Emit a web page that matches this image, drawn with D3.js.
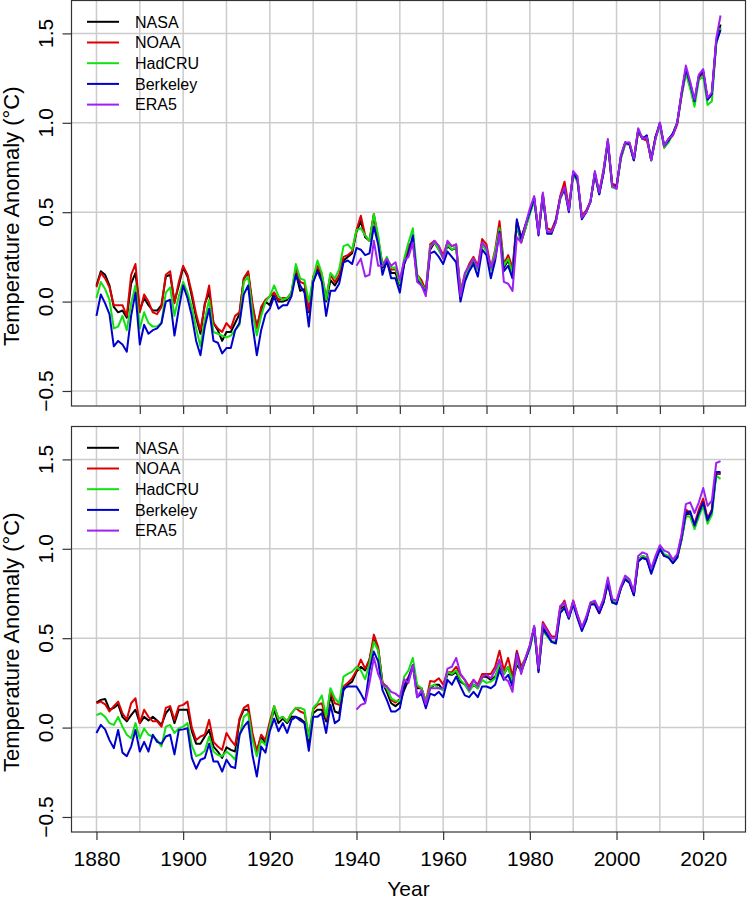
<!DOCTYPE html>
<html>
<head>
<meta charset="utf-8">
<script src="https://cdn.jsdelivr.net/npm/d3@7"></script>
<style>
  body { margin: 0; background: #fff; }
  svg { display: block; font-family: "Liberation Sans", Arial, sans-serif; }
</style>
</head>
<body>
<svg id="chart" width="748" height="900"></svg>
<script>
/* global d3 */

// ---- data ----
var years = d3.range(1880, 2025);
var era5Years = d3.range(1940, 2025);

var xTicksTop = [1890, 1900, 1910, 1920, 1930, 1940, 1950, 1960, 1970, 1980, 1990, 2000, 2010, 2020];
var xTicksBottom = [1880, 1900, 1920, 1940, 1960, 1980, 2000, 2020];
var xGrid = [1880, 1890, 1900, 1910, 1920, 1930, 1940, 1950, 1960, 1970, 1980, 1990, 2000, 2010, 2020];
var yTicks = [-0.5, 0, 0.5, 1, 1.5];
var yTickLabels = ['\u22120.5', '0.0', '0.5', '1.0', '1.5'];

var seriesNames = ['NASA', 'NOAA', 'HadCRU', 'Berkeley', 'ERA5'];
var seriesColors = ['#000000', '#dd0000', '#11e011', '#0000cc', '#a020f0'];

// top panel
var nasaTop = [0.09,0.17,0.15,0.09,-0.03,-0.06,-0.05,-0.09,0.10,0.16,
  -0.05,0.02,-0.02,-0.05,-0.05,-0.02,0.14,0.15,0.00,0.09,
  0.19,0.14,0.03,-0.09,-0.18,-0.01,0.05,-0.12,-0.16,-0.22,
  -0.17,-0.17,-0.12,-0.07,0.13,0.16,-0.03,-0.14,-0.05,0.00,
  -0.02,0.05,0.00,0.00,0.01,0.05,0.16,0.06,0.07,-0.06,
  0.11,0.18,0.13,0.00,0.12,0.09,0.13,0.23,0.25,0.27,
  0.39,0.45,0.36,0.34,0.48,0.35,0.19,0.22,0.16,0.16,
  0.09,0.21,0.29,0.34,0.14,0.11,0.06,0.29,0.33,0.29,
  0.25,0.31,0.29,0.30,0.05,0.13,0.19,0.23,0.18,0.33,
  0.29,0.18,0.25,0.40,0.19,0.23,0.16,0.43,0.33,0.41,
  0.50,0.58,0.38,0.59,0.39,0.39,0.45,0.58,0.64,0.51,
  0.72,0.68,0.47,0.50,0.56,0.72,0.60,0.72,0.89,0.64,
  0.64,0.81,0.89,0.88,0.79,0.96,0.91,0.92,0.79,0.92,
  0.99,0.87,0.91,0.94,1.00,1.16,1.30,1.21,1.12,1.26,
  1.28,1.13,1.16,1.45,1.55];
var noaaTop = [0.08,0.16,0.13,0.08,-0.02,-0.02,-0.02,-0.08,0.15,0.21,
  -0.06,0.04,0.00,-0.06,-0.07,-0.03,0.15,0.17,-0.01,0.11,
  0.20,0.15,0.05,-0.07,-0.16,-0.02,0.09,-0.12,-0.15,-0.17,
  -0.12,-0.15,-0.08,-0.06,0.13,0.17,-0.01,-0.15,-0.03,0.01,
  0.03,0.05,0.01,0.02,0.02,0.05,0.19,0.11,0.10,-0.05,
  0.14,0.20,0.15,0.02,0.15,0.11,0.15,0.25,0.26,0.28,
  0.40,0.48,0.37,0.34,0.49,0.34,0.21,0.24,0.18,0.18,
  0.11,0.22,0.31,0.34,0.15,0.12,0.06,0.32,0.34,0.31,
  0.26,0.33,0.31,0.32,0.06,0.15,0.21,0.25,0.20,0.35,
  0.32,0.19,0.29,0.45,0.21,0.26,0.19,0.45,0.36,0.43,
  0.50,0.57,0.40,0.60,0.41,0.40,0.46,0.59,0.67,0.53,
  0.71,0.68,0.48,0.51,0.56,0.71,0.61,0.74,0.89,0.66,
  0.65,0.80,0.88,0.88,0.80,0.95,0.91,0.90,0.80,0.92,
  0.99,0.86,0.90,0.93,0.99,1.15,1.28,1.20,1.12,1.25,
  1.28,1.13,1.16,1.45,1.53];
var hadcruTop = [0.02,0.11,0.07,0.01,-0.15,-0.14,-0.08,-0.16,-0.01,0.09,
  -0.15,-0.06,-0.12,-0.14,-0.14,-0.12,0.05,0.08,-0.08,0.03,
  0.11,0.05,-0.03,-0.15,-0.25,-0.10,0.01,-0.17,-0.18,-0.19,
  -0.20,-0.19,-0.16,-0.13,0.11,0.14,-0.06,-0.19,-0.08,0.00,
  0.03,0.09,0.03,0.01,0.02,0.05,0.21,0.13,0.12,0.00,
  0.13,0.23,0.16,0.01,0.16,0.13,0.18,0.31,0.32,0.29,
  0.40,0.41,0.37,0.34,0.49,0.37,0.20,0.25,0.19,0.19,
  0.10,0.24,0.33,0.41,0.15,0.10,0.055,0.31,0.33,0.29,
  0.24,0.32,0.29,0.31,0.05,0.14,0.19,0.24,0.18,0.32,
  0.28,0.18,0.28,0.41,0.20,0.24,0.16,0.43,0.34,0.41,
  0.49,0.56,0.39,0.59,0.39,0.38,0.45,0.57,0.63,0.51,
  0.71,0.67,0.47,0.50,0.56,0.71,0.60,0.73,0.90,0.64,
  0.63,0.80,0.88,0.89,0.79,0.95,0.92,0.92,0.79,0.91,
  0.99,0.86,0.89,0.94,1.00,1.15,1.28,1.19,1.09,1.24,
  1.26,1.10,1.12,1.44,1.53];
var berkeleyTop = [-0.08,0.04,-0.01,-0.07,-0.25,-0.22,-0.24,-0.28,-0.08,0.05,
  -0.24,-0.13,-0.18,-0.16,-0.15,-0.12,0.00,0.01,-0.19,-0.04,
  0.09,0.02,-0.08,-0.22,-0.30,-0.14,-0.04,-0.22,-0.23,-0.29,
  -0.26,-0.26,-0.16,-0.12,0.04,0.09,-0.13,-0.30,-0.16,-0.07,
  -0.04,0.03,-0.04,-0.02,-0.02,0.03,0.15,0.09,0.05,-0.14,
  0.11,0.17,0.11,-0.08,0.06,0.06,0.10,0.22,0.23,0.21,
  0.30,0.29,0.26,0.27,0.42,0.32,0.15,0.23,0.13,0.13,
  0.05,0.21,0.27,0.37,0.12,0.09,0.045,0.27,0.28,0.25,
  0.21,0.28,0.25,0.22,0.00,0.11,0.17,0.21,0.14,0.29,
  0.26,0.13,0.23,0.39,0.17,0.20,0.13,0.46,0.35,0.43,
  0.50,0.58,0.37,0.60,0.38,0.38,0.45,0.58,0.63,0.50,
  0.72,0.68,0.46,0.50,0.56,0.72,0.60,0.72,0.90,0.65,
  0.64,0.81,0.89,0.88,0.79,0.96,0.91,0.93,0.79,0.92,
  1.00,0.87,0.90,0.94,1.00,1.16,1.30,1.22,1.12,1.26,
  1.29,1.13,1.16,1.45,1.52];
var era5Top = [0.20,0.24,0.14,0.15,0.34,0.20,0.20,0.24,0.20,0.22,
  0.12,0.23,0.25,0.33,0.11,0.09,0.03,0.30,0.34,0.31,
  0.24,0.34,0.31,0.32,0.03,0.16,0.20,0.24,0.19,0.33,
  0.30,0.19,0.25,0.38,0.11,0.10,0.06,0.36,0.33,0.43,
  0.52,0.59,0.38,0.61,0.39,0.39,0.44,0.58,0.64,0.51,
  0.73,0.70,0.47,0.50,0.56,0.73,0.61,0.73,0.91,0.65,
  0.63,0.82,0.89,0.89,0.80,0.97,0.91,0.92,0.79,0.91,
  1.00,0.87,0.91,0.93,1.00,1.17,1.32,1.23,1.13,1.27,
  1.30,1.14,1.17,1.47,1.60];

// bottom panel
var nasaBottom = [0.14,0.155,0.16,0.10,0.11,0.13,0.06,0.035,0.07,0.10,
  0.025,0.06,0.04,0.06,0.04,0.015,0.08,0.11,0.025,0.10,
  0.10,0.10,-0.02,-0.09,-0.09,-0.05,-0.013,-0.106,-0.134,-0.17,
  -0.11,-0.125,-0.134,0.043,0.10,0.10,-0.05,-0.134,-0.05,-0.09,
  0.015,0.10,0.025,0.05,0.025,0.06,0.06,0.05,0.03,-0.09,
  0.08,0.10,0.10,0.034,0.18,0.09,0.08,0.21,0.24,0.257,
  0.313,0.34,0.32,0.38,0.49,0.44,0.25,0.20,0.136,0.12,
  0.14,0.21,0.267,0.34,0.22,0.22,0.145,0.22,0.24,0.24,
  0.21,0.30,0.295,0.31,0.257,0.24,0.21,0.24,0.22,0.285,
  0.285,0.267,0.285,0.34,0.30,0.34,0.257,0.35,0.32,0.38,
  0.45,0.56,0.32,0.56,0.52,0.48,0.48,0.66,0.68,0.61,
  0.70,0.62,0.55,0.60,0.69,0.69,0.64,0.70,0.81,0.70,
  0.70,0.78,0.83,0.81,0.74,0.93,0.95,0.94,0.87,0.94,
  1.00,0.96,0.96,0.92,0.95,1.05,1.19,1.20,1.13,1.20,
  1.26,1.16,1.21,1.42,1.42];
var noaaBottom = [0.136,0.145,0.13,0.09,0.12,0.145,0.08,0.045,0.136,0.164,
  0.025,0.10,0.06,0.035,0.035,0.005,0.11,0.12,0.043,0.12,
  0.127,0.145,0.00,-0.07,-0.05,-0.04,0.043,-0.08,-0.106,-0.125,
  -0.03,-0.07,-0.10,0.05,0.11,0.127,-0.03,-0.134,-0.04,-0.07,
  0.034,0.12,0.05,0.06,0.034,0.08,0.11,0.09,0.08,-0.05,
  0.10,0.127,0.136,0.05,0.21,0.136,0.127,0.23,0.25,0.276,
  0.32,0.38,0.33,0.38,0.52,0.45,0.25,0.23,0.155,0.14,
  0.16,0.24,0.285,0.34,0.23,0.22,0.145,0.26,0.257,0.276,
  0.24,0.31,0.31,0.34,0.295,0.267,0.23,0.267,0.24,0.30,
  0.30,0.30,0.34,0.43,0.32,0.39,0.285,0.43,0.34,0.39,
  0.46,0.56,0.34,0.59,0.55,0.51,0.51,0.67,0.71,0.62,
  0.71,0.63,0.56,0.61,0.69,0.70,0.64,0.71,0.82,0.71,
  0.70,0.78,0.84,0.82,0.75,0.94,0.96,0.95,0.88,0.94,
  1.00,0.96,0.96,0.93,0.96,1.07,1.22,1.20,1.14,1.22,
  1.28,1.17,1.22,1.43,1.42];
var hadcruBottom = [0.07,0.08,0.06,0.025,0.015,0.06,0.005,-0.04,-0.06,0.025,
  -0.06,-0.005,-0.04,-0.05,-0.07,-0.105,0.005,0.015,-0.03,-0.005,
  0.005,0.025,-0.10,-0.16,-0.15,-0.13,-0.05,-0.134,-0.153,-0.16,
  -0.134,-0.153,-0.18,-0.05,0.06,0.08,-0.07,-0.16,-0.07,-0.098,
  0.005,0.12,0.05,0.06,0.034,0.08,0.11,0.11,0.10,-0.06,
  0.11,0.136,0.18,0.06,0.22,0.164,0.136,0.285,0.30,0.313,
  0.34,0.32,0.27,0.36,0.48,0.43,0.24,0.22,0.164,0.15,
  0.15,0.285,0.32,0.39,0.24,0.22,0.145,0.23,0.24,0.22,
  0.21,0.31,0.30,0.32,0.267,0.24,0.20,0.24,0.22,0.267,
  0.25,0.257,0.276,0.36,0.30,0.34,0.257,0.37,0.32,0.39,
  0.44,0.55,0.32,0.54,0.51,0.48,0.48,0.65,0.67,0.61,
  0.70,0.62,0.55,0.61,0.70,0.69,0.65,0.72,0.82,0.71,
  0.70,0.78,0.84,0.82,0.75,0.94,0.96,0.95,0.87,0.94,
  1.01,0.97,0.96,0.93,0.95,1.05,1.18,1.18,1.11,1.18,
  1.24,1.14,1.19,1.41,1.39];
var berkeleyBottom = [-0.03,0.015,-0.01,-0.07,-0.115,-0.013,-0.14,-0.16,-0.106,-0.013,
  -0.134,-0.08,-0.134,-0.04,-0.08,-0.09,-0.05,-0.04,-0.15,-0.013,
  -0.01,-0.004,-0.17,-0.23,-0.18,-0.17,-0.09,-0.19,-0.19,-0.246,
  -0.18,-0.218,-0.227,-0.04,0.005,0.034,-0.153,-0.274,-0.106,-0.14,
  -0.02,0.05,-0.02,0.025,-0.03,0.043,0.06,0.04,0.025,-0.13,
  0.06,0.06,0.08,-0.03,0.127,0.024,0.043,0.22,0.23,0.23,
  0.23,0.19,0.145,0.32,0.425,0.37,0.21,0.155,0.09,0.09,
  0.108,0.23,0.276,0.35,0.17,0.19,0.108,0.19,0.18,0.20,
  0.17,0.267,0.24,0.285,0.23,0.18,0.17,0.20,0.17,0.23,
  0.23,0.22,0.24,0.32,0.267,0.295,0.23,0.415,0.31,0.38,
  0.45,0.56,0.31,0.55,0.52,0.48,0.47,0.64,0.67,0.61,
  0.69,0.61,0.54,0.60,0.69,0.69,0.64,0.70,0.81,0.70,
  0.69,0.78,0.83,0.81,0.74,0.93,0.95,0.94,0.86,0.93,
  1.00,0.96,0.95,0.92,0.95,1.06,1.20,1.21,1.13,1.20,
  1.26,1.16,1.21,1.43,1.43];
var era5Bottom = [0.10,0.127,0.136,0.25,0.39,0.30,0.24,0.23,0.20,0.19,
  0.17,0.27,0.25,0.35,0.17,0.21,0.13,0.22,0.22,0.22,
  0.22,0.33,0.34,0.39,0.30,0.267,0.21,0.267,0.23,0.285,
  0.295,0.276,0.32,0.38,0.276,0.26,0.20,0.41,0.30,0.39,
  0.46,0.57,0.33,0.58,0.54,0.50,0.50,0.68,0.70,0.62,
  0.71,0.63,0.56,0.62,0.70,0.71,0.66,0.72,0.84,0.72,
  0.71,0.79,0.85,0.83,0.76,0.96,0.98,0.97,0.89,0.96,
  1.02,0.99,0.98,0.94,0.97,1.08,1.25,1.26,1.20,1.26,
  1.34,1.24,1.27,1.48,1.49];

// ---- layout ----
var svg = d3.select('svg#chart');
var plotLeft = 71.5, plotRight = 745.5;
var panels = [
  { top: 0.5, bottom: 406, series: [nasaTop, noaaTop, hadcruTop, berkeleyTop, era5Top], ticks: xTicksTop, labels: false },
  { top: 426.5, bottom: 832, series: [nasaBottom, noaaBottom, hadcruBottom, berkeleyBottom, era5Bottom], ticks: xTicksBottom, labels: true }
];

var x = d3.scaleLinear().domain([1874.24, 2029.76]).range([plotLeft, plotRight]);

panels.forEach(drawPanel);

function drawPanel(p) {
  var y = d3.scaleLinear().domain([-0.584, 1.684]).range([p.bottom, p.top]);
  var g = svg.append('g');

  // grid
  g.selectAll('.vgrid').data(xGrid).enter()
    .append('line').classed('vgrid', true)
      .attr('x1', x).attr('x2', x)
      .attr('y1', p.top).attr('y2', p.bottom)
      .attr('stroke', '#cccccc').attr('stroke-width', 1.5);
  g.selectAll('.hgrid').data(yTicks).enter()
    .append('line').classed('hgrid', true)
      .attr('x1', plotLeft).attr('x2', plotRight)
      .attr('y1', y).attr('y2', y)
      .attr('stroke', '#cccccc').attr('stroke-width', 1.5);

  // series
  var line = d3.line().x(function(d) { return x(d[0]); }).y(function(d) { return y(d[1]); });
  p.series.forEach(function(vals, i) {
    var yrs = (i === 4) ? era5Years : years;
    g.append('path')
      .datum(d3.zip(yrs, vals))
      .attr('d', line)
      .attr('fill', 'none')
      .attr('stroke', seriesColors[i])
      .attr('stroke-width', 2)
      .attr('stroke-linejoin', 'round');
  });

  // frame
  g.append('rect')
    .attr('x', plotLeft).attr('y', p.top)
    .attr('width', plotRight - plotLeft).attr('height', p.bottom - p.top)
    .attr('fill', 'none').attr('stroke', '#333').attr('stroke-width', 1.2);

  // y axis
  var yAxis = g.append('g')
    .attr('transform', 'translate(' + plotLeft + ',0)')
    .call(d3.axisLeft(y).tickValues(yTicks).tickSize(9).tickFormat(''));
  yAxis.select('.domain').remove();
  yAxis.selectAll('line').attr('stroke', '#333').attr('stroke-width', 1.2);

  g.selectAll('.ylab').data(yTicks).enter()
    .append('text').classed('ylab', true)
      .attr('transform', function(d) { return 'translate(53,' + y(d) + ') rotate(-90)'; })
      .attr('text-anchor', 'middle')
      .attr('font-size', 21)
      .text(function(d, i) { return yTickLabels[i]; });

  g.append('text')
    .attr('transform', 'translate(19,' + ((p.top + p.bottom) / 2 + 13) + ') rotate(-90)')
    .attr('text-anchor', 'middle')
    .attr('font-size', 22)
    .text('Temperature Anomaly (\u00b0C)');

  // x axis
  var xAxis = g.append('g')
    .attr('transform', 'translate(0,' + p.bottom + ')')
    .call(d3.axisBottom(x).tickValues(p.ticks).tickSize(8).tickPadding(11)
      .tickFormat(p.labels ? d3.format('d') : ''));
  xAxis.select('.domain').remove();
  xAxis.selectAll('line').attr('stroke', '#333').attr('stroke-width', 1.2);
  xAxis.selectAll('text').attr('font-size', 21).attr('fill', '#000')
    .attr('font-family', '"Liberation Sans", Arial, sans-serif');

  // legend
  var legend = g.append('g').attr('transform', 'translate(0,' + (p.top + 21.3) + ')');
  var items = legend.selectAll('.item').data(seriesNames).enter()
    .append('g').classed('item', true)
      .attr('transform', function(d, i) { return 'translate(0,' + (i * 20.7) + ')'; });
  items.append('line')
    .attr('x1', 87).attr('x2', 119).attr('y1', 0).attr('y2', 0)
    .attr('stroke', function(d, i) { return seriesColors[i]; })
    .attr('stroke-width', 2);
  items.append('text')
    .attr('x', 135).attr('y', 0).attr('dy', '0.36em')
    .attr('font-size', 16)
    .text(function(d) { return d; });
}

svg.append('text')
  .attr('x', (plotLeft + plotRight) / 2).attr('y', 896)
  .attr('text-anchor', 'middle')
  .attr('font-size', 21)
  .text('Year');
</script>
</body>
</html>
